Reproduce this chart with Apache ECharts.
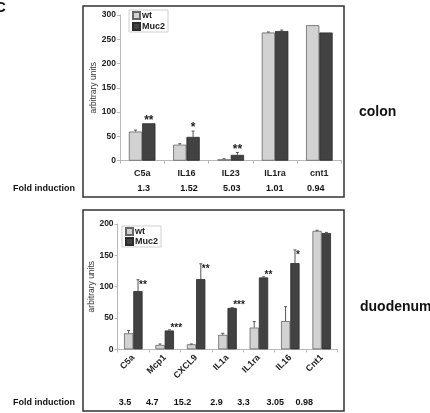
<!DOCTYPE html>
<html>
<head>
<meta charset="utf-8">
<script src="https://cdn.jsdelivr.net/npm/echarts@6/dist/echarts.min.js"></script>
<style>
html,body{margin:0;padding:0;background:#fff;}
#chart{width:430px;height:413px;}
</style>
</head>
<body>
<div id="chart"></div>
<script>
// ---------- data ----------
const topCats = ['C5a', 'IL16', 'IL23', 'IL1ra', 'cnt1'];
const topWt = [60, 33, 3, 264, 279];
const topWtErr = [3, 2, 1, 1, 0];
const topMuc = [77, 49, 12, 267, 264];
const topMucErr = [0, 12, 5, 2, 0];
const topStars = ['**', '*', '**', '', ''];
const topFold = ['1.3', '1.52', '5.03', '1.01', '0.94'];

const botCats = ['C5a', 'Mcp1', 'CXCL9', 'IL1a', 'IL1ra', 'IL16', 'Cnt1'];
const botWt = [25.6, 7, 8, 23, 34.7, 45, 189];
const botWtErr = [4.5, 1.5, 0.5, 2.5, 9.5, 23, 1];
const botMuc = [93, 30, 112, 66, 114.7, 137.6, 185.6];
const botMucErr = [18, 1, 24.5, 0.5, 1, 21, 1];
const botStars = ['**', '***', '**', '***', '**', '*', ''];
const botFold = ['3.5', '4.7', '15.2', '2.9', '3.3', '3.05', '0.98'];

const seriesNames = ['wt', 'Muc2'];
const foldTitle = 'Fold induction';
const yName = 'arbitrary units';

// ---------- layout (positions only) ----------
const topFoldX = [143.7, 189, 231.8, 274.7, 315.8];
const botFoldX = [125, 152.3, 182.5, 216.5, 243.5, 275.3, 304.3];

const FONT = '"Liberation Sans", Arial, sans-serif';
const WT_COLOR = '#d2d2d2';
const MUC_COLOR = '#424242';

const chart = echarts.init(document.getElementById('chart'), null, {renderer: 'canvas'});

function errRenderer(wtErr, mucErr, stars, mode) {
  return function (params, api) {
    const i = api.value(0);
    const wt = api.value(1), mu = api.value(2);
    const band = api.size([1, 0])[0];
    const bw = band * 0.3;
    const c = api.coord([i, 0])[0];
    const children = [];
    const style = {stroke: '#555', lineWidth: 1};
    const addErr = (x, v, e) => {
      if (e <= 0) return;
      const y0 = api.coord([i, v])[1];
      const y1 = api.coord([i, v + e])[1];
      children.push({type: 'line', shape: {x1: x, y1: y0, x2: x, y2: y1}, style: style});
      children.push({type: 'line', shape: {x1: x - 1.5, y1: y1, x2: x + 1.5, y2: y1}, style: style});
    };
    const xw = c - bw / 2, xm = c + bw / 2;
    addErr(xw, wt, wtErr[i]);
    addErr(xm, mu, mucErr[i]);
    const s = stars[i];
    if (s) {
      const topY = api.coord([i, mu + mucErr[i]])[1];
      if (mode === 'top') {
        children.push({type: 'text', style: {
          text: s, x: xm, y: topY - 3, align: 'center', verticalAlign: 'middle',
          font: 'bold 12px ' + FONT, fill: '#222'}});
      } else {
        const y = mucErr[i] > 5 ? topY + 5 : topY - 2;
        children.push({type: 'text', style: {
          text: s, x: xm + 1, y: y, align: 'left', verticalAlign: 'middle',
          font: 'bold 10px ' + FONT, fill: '#222'}});
      }
    }
    return {type: 'group', children: children};
  };
}

const axisLabelStyle = {fontFamily: FONT, fontWeight: 'bold', fontSize: 8.5, color: '#222'};

function yAxisCfg(gridIndex, max, nameGap) {
  return {
    type: 'value', gridIndex: gridIndex, min: 0, max: max, interval: 50,
    name: yName, nameLocation: 'middle', nameGap: nameGap, nameMoveOverlap: false,
    nameTextStyle: {fontFamily: FONT, fontSize: 8.5, color: '#333'},
    axisLine: {show: true, lineStyle: {color: '#b8b8b8', width: 1}},
    axisTick: {show: true, length: 3, lineStyle: {color: '#b8b8b8'}},
    axisLabel: Object.assign({margin: 4}, axisLabelStyle),
    splitLine: {show: false}
  };
}

const graphics = [];
// frames
graphics.push({type: 'rect', shape: {x: 83, y: 6, width: 261, height: 191},
  style: {fill: 'none', stroke: '#333', lineWidth: 1.5}, z: 100});
graphics.push({type: 'rect', shape: {x: 83, y: 210, width: 261, height: 201},
  style: {fill: 'none', stroke: '#333', lineWidth: 1.5}, z: 100});
// panel letter
graphics.push({type: 'text', style: {text: 'C', x: -5, y: 0, font: 'bold 15px ' + FONT, fill: '#111'}});
// tissue labels
graphics.push({type: 'text', style: {text: 'colon', x: 359, y: 112, verticalAlign: 'middle',
  font: 'bold 14px ' + FONT, fill: '#111'}});
graphics.push({type: 'text', style: {text: 'duodenum', x: 360, y: 307, verticalAlign: 'middle',
  font: 'bold 14px ' + FONT, fill: '#111'}});
// fold induction
graphics.push({type: 'text', style: {text: foldTitle, x: 13, y: 189, verticalAlign: 'middle',
  font: 'bold 9px ' + FONT, fill: '#111'}});
graphics.push({type: 'text', style: {text: foldTitle, x: 13, y: 402.5, verticalAlign: 'middle',
  font: 'bold 9px ' + FONT, fill: '#111'}});
topFold.forEach((t, k) => graphics.push({type: 'text', style: {text: t, x: topFoldX[k], y: 189,
  align: 'center', verticalAlign: 'middle', font: 'bold 9px ' + FONT, fill: '#111'}}));
botFold.forEach((t, k) => graphics.push({type: 'text', style: {text: t, x: botFoldX[k], y: 402.5,
  align: 'center', verticalAlign: 'middle', font: 'bold 9px ' + FONT, fill: '#111'}}));

const legendBase = {
  orient: 'vertical', icon: 'rect', itemWidth: 7, itemHeight: 7,
  padding: [1, 3], borderColor: '#cfcfcf', borderWidth: 1,
  textStyle: {fontFamily: FONT, fontWeight: 'bold', fontSize: 9, color: '#222', padding: [0, 0, 0, -3]},
  data: seriesNames
};

const option = {
  animation: false,
  backgroundColor: '#fff',
  textStyle: {fontFamily: FONT},
  grid: [
    {left: 120, right: 88.5, top: 15, height: 145.7},
    {left: 117.6, right: 92.6, top: 224, height: 125.3}
  ],
  legend: [
    Object.assign({left: 129, top: 10, itemGap: 2}, legendBase),
    Object.assign({left: 122, top: 226, itemGap: 1}, legendBase)
  ],
  xAxis: [
    {type: 'category', gridIndex: 0, data: topCats,
     axisLine: {lineStyle: {color: '#b8b8b8'}},
     axisTick: {show: true, length: 3, lineStyle: {color: '#b8b8b8'}},
     axisLabel: Object.assign({margin: 8}, axisLabelStyle, {fontSize: 9})},
    {type: 'category', gridIndex: 1, data: botCats,
     axisLine: {lineStyle: {color: '#b8b8b8'}},
     axisTick: {show: true, length: 3, lineStyle: {color: '#b8b8b8'}},
     axisLabel: Object.assign({margin: 7, rotate: 45, interval: 0}, axisLabelStyle, {fontSize: 9})}
  ],
  yAxis: [yAxisCfg(0, 300, 22), yAxisCfg(1, 200, 21)],
  graphic: graphics,
  series: [
    {name: seriesNames[0], type: 'bar', xAxisIndex: 0, yAxisIndex: 0, data: topWt,
     barGap: 0, barCategoryGap: '40%',
     itemStyle: {color: WT_COLOR, borderColor: '#666', borderWidth: 0.8}},
    {name: seriesNames[1], type: 'bar', xAxisIndex: 0, yAxisIndex: 0, data: topMuc,
     barGap: 0, barCategoryGap: '40%',
     itemStyle: {color: MUC_COLOR, borderColor: '#2a2a2a', borderWidth: 0.8}},
    {type: 'custom', xAxisIndex: 0, yAxisIndex: 0, z: 5,
     renderItem: errRenderer(topWtErr, topMucErr, topStars, 'top'),
     data: topCats.map((c, i) => [i, topWt[i], topMuc[i]])},
    {name: seriesNames[0], type: 'bar', xAxisIndex: 1, yAxisIndex: 1, data: botWt,
     barGap: 0, barCategoryGap: '41%',
     itemStyle: {color: WT_COLOR, borderColor: '#666', borderWidth: 0.8}},
    {name: seriesNames[1], type: 'bar', xAxisIndex: 1, yAxisIndex: 1, data: botMuc,
     barGap: 0, barCategoryGap: '41%',
     itemStyle: {color: MUC_COLOR, borderColor: '#2a2a2a', borderWidth: 0.8}},
    {type: 'custom', xAxisIndex: 1, yAxisIndex: 1, z: 5,
     renderItem: errRenderer(botWtErr, botMucErr, botStars, 'bot'),
     data: botCats.map((c, i) => [i, botWt[i], botMuc[i]])}
  ]
};
chart.setOption(option);
</script>
</body>
</html>
